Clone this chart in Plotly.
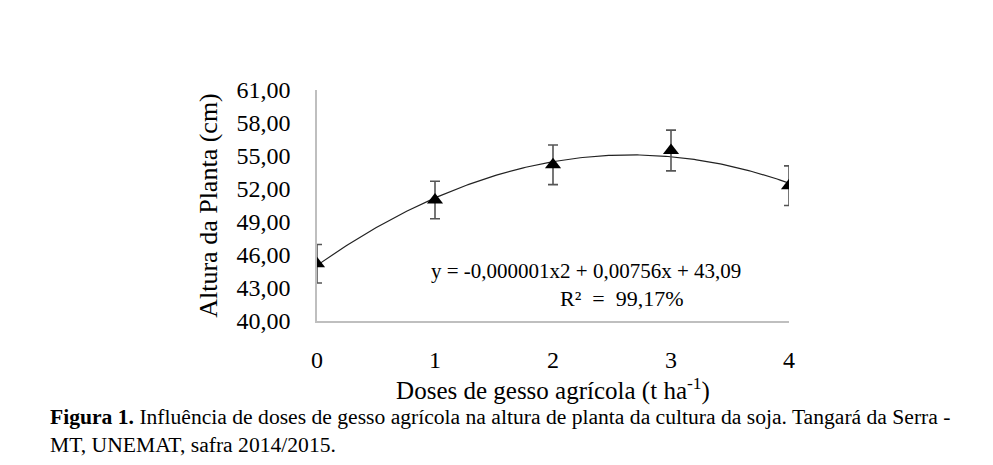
import numpy as np
import plotly.graph_objects as go

doses = [0, 1, 2, 3, 4]
altura = [45.2, 51.0, 54.2, 55.5, 52.3]
erro = [1.75, 1.7, 1.8, 1.85, 1.8]
y_ticks = [40, 43, 46, 49, 52, 55, 58, 61]
y_tick_labels = ["40,00", "43,00", "46,00", "49,00", "52,00", "55,00", "58,00", "61,00"]
x_ticks = [0, 1, 2, 3, 4]

coef = np.polyfit(doses, altura, 2)
xs = np.linspace(0, 4, 200)
ys = np.polyval(coef, xs)

FONT = "Liberation Serif"

fig = go.Figure()
fig.add_trace(go.Scatter(x=xs, y=ys, mode="lines",
                         line=dict(color="#222222", width=1.2),
                         hoverinfo="skip", showlegend=False))
fig.add_trace(go.Scatter(x=doses, y=altura, mode="markers",
                         marker=dict(symbol="triangle-up", size=14, color="black"),
                         error_y=dict(type="data", array=erro, visible=True,
                                      color="#555555", thickness=1.6, width=5),
                         showlegend=False))

fig.update_layout(
    width=993, height=465,
    margin=dict(l=309, r=212, t=82, b=152),
    paper_bgcolor="white", plot_bgcolor="white",
    font=dict(family=FONT, color="black", size=24),
    xaxis=dict(range=[0, 4], tickvals=x_ticks, showgrid=False, zeroline=False,
               showline=True, linecolor="#bfbfbf", linewidth=1.5,
               ticks="outside", ticklen=16, tickcolor="rgba(0,0,0,0)",
               tickfont=dict(family=FONT, size=24, color="black"),
               title=dict(text="Doses de gesso agrícola (t ha<sup>-1</sup>)",
                          font=dict(family=FONT, size=25, color="black"), standoff=6)),
    yaxis=dict(range=[40, 61], tickvals=y_ticks, ticktext=y_tick_labels,
               showgrid=False, zeroline=False,
               showline=True, linecolor="#bfbfbf", linewidth=1.5,
               ticks="outside", ticklen=20, tickcolor="rgba(0,0,0,0)",
               tickfont=dict(family=FONT, size=24, color="black"),
               title=dict(text="Altura da Planta (cm)",
                          font=dict(family=FONT, size=26, color="black"), standoff=11)),
)

fig.add_annotation(xref="x", yref="y", x=2.283, y=44.55,
                   text="y = -0,000001x2 + 0,00756x + 43,09",
                   showarrow=False, font=dict(family=FONT, size=21, color="black"),
                   xanchor="center", yanchor="middle")
fig.add_annotation(xref="x", yref="y", x=2.588, y=42.09,
                   text="R²  =  99,17%",
                   showarrow=False, font=dict(family=FONT, size=22, color="black"),
                   xanchor="center", yanchor="middle")

fig.add_annotation(xref="paper", yref="paper", x=-0.570, y=-0.355,
                   xanchor="left", yanchor="top", align="left", showarrow=False,
                   text="<b>Figura 1.</b> Influência de doses de gesso agrícola na altura de planta da cultura da soja. Tangará da Serra -<br>MT, UNEMAT, safra 2014/2015.",
                   font=dict(family=FONT, size=21.6, color="black"))

fig.write_html("out.html")
